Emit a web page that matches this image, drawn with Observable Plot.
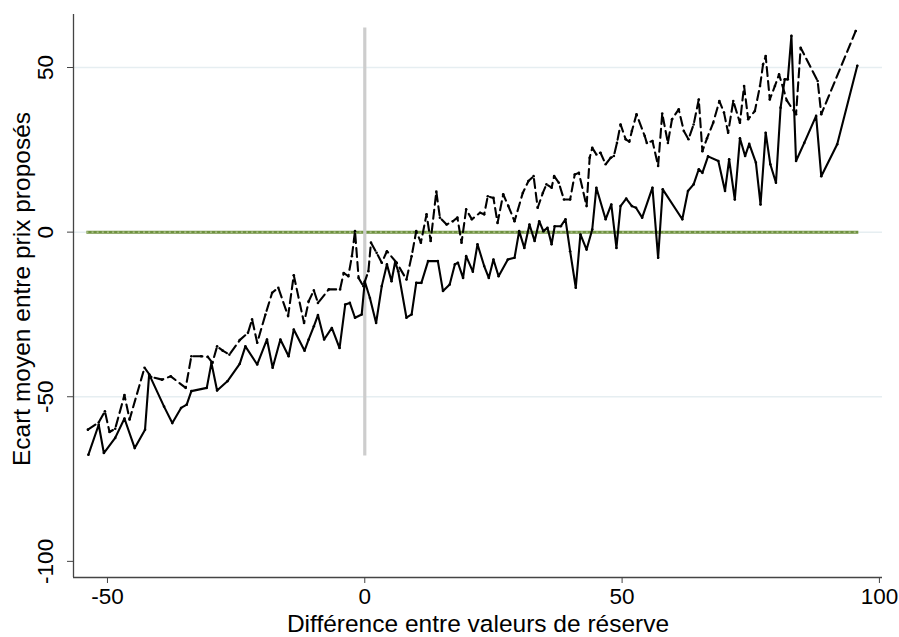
<!DOCTYPE html>
<html><head><meta charset="utf-8">
<script src="https://cdn.jsdelivr.net/npm/d3@7"></script>
<script src="https://cdn.jsdelivr.net/npm/@observablehq/plot@0.6"></script>
<style>body{margin:0;background:#fff}svg{display:block}</style>
</head><body><div id="chart"></div>
<script>
// Series 1 (solid line)
const solidX = [-53.7,-51.7,-50.7,-48.5,-46.7,-44.7,-42.7,-41.9,-39.0,-37.4,-35.7,-34.6,-33.7,-30.7,-29.8,-28.7,-26.7,-24.3,-23.2,-20.9,-19.0,-17.9,-16.4,-14.8,-13.8,-11.7,-10.9,-9.9,-9.1,-7.9,-6.4,-4.9,-3.8,-2.9,-1.9,-0.6,0,1.0,2.2,3.3,4.3,5.2,5.9,6.5,8.1,9.1,10.0,11.0,12.3,14.2,15.2,16.5,17.5,18.1,19.1,19.7,21.0,21.9,23.2,24.1,25.0,26.0,27.8,29.1,30.0,31.0,32.0,33.0,33.9,34.7,35.5,36.3,36.9,38.1,39.0,39.9,41.0,41.9,43.1,44.2,45.0,46.8,47.9,48.9,49.7,50.8,51.9,52.7,53.9,55.9,57.0,57.9,61.7,62.8,63.9,64.9,65.6,66.7,68.7,70.0,70.8,71.9,72.9,73.9,74.7,76.0,76.9,77.9,78.8,79.9,80.8,81.6,82.2,82.9,83.8,85.4,87.7,88.7,91.8,95.7];
const solidY = [-67.6,-58.5,-67.1,-62.5,-56.6,-65.6,-60,-43.2,-53,-58,-53.4,-52.4,-48.3,-47.3,-39.7,-48.1,-45.3,-40,-34.7,-40.2,-32.6,-41.2,-32.6,-37.7,-29.6,-36,-32.6,-28.6,-25.2,-32.6,-29.1,-35.2,-22,-21.5,-26,-25,-15,-20,-27.6,-16.4,-9.8,-14.9,-9,-11.9,-26,-25,-15.4,-15.4,-8.8,-8.8,-17.9,-15.9,-9.8,-9.3,-13.9,-7.3,-12,-3.7,-10.3,-13.9,-8.3,-13.4,-8.3,-7.8,0.3,-4.8,2.3,-2.7,3.3,0.3,1.3,-3.7,1.8,1.8,3.9,-5.8,-16.9,-0.7,-5.3,0.8,13.5,3.9,8.4,-4.8,7.9,10.2,7.9,7.4,4.4,13.5,-7.8,13,3.9,12.5,14.5,19.1,18,23,21.6,12.5,22.1,9.9,28.5,23.1,26.8,21.1,8.4,30.2,20.6,15,37.8,46.4,46.4,59.6,21.6,27.1,35.3,17,26.7,50.5];
// Series 2 (dashed line)
const dashX = [-53.8,-51.7,-50.5,-49.6,-48.5,-46.7,-45.7,-42.8,-41.5,-39.4,-37.7,-34.8,-33.7,-31.8,-30.5,-29.6,-28.7,-27.6,-26.3,-24.3,-22.7,-21.9,-20.9,-19.3,-18.0,-16.8,-14.9,-13.8,-11.8,-10.9,-9.9,-9.1,-7.0,-4.8,-4.1,-3.2,-2.5,-1.9,-1.2,-0.3,0.7,1.2,2.3,3.3,4.3,6.2,8.1,9.1,10.0,10.9,12.0,12.8,13.9,14.6,15.9,17.1,18.0,18.8,19.7,20.8,22.4,23.2,23.9,25.0,25.8,26.9,27.9,29.1,30.7,31.8,32.8,33.6,34.6,35.3,36.3,36.8,37.7,38.7,39.9,40.8,41.6,43.1,43.7,44.2,45.0,45.8,46.8,47.8,48.4,49.0,49.7,50.7,51.4,51.9,52.8,54.4,54.8,55.9,57.0,57.8,58.9,59.7,61.0,62.0,62.9,63.9,64.9,65.6,66.5,67.7,68.9,69.8,70.6,71.6,72.9,73.7,74.5,75.8,76.8,77.4,77.9,78.7,79.7,80.5,82.0,83.8,84.7,88.0,88.7,95.4];
const dashY = [-60,-57.8,-54.4,-60.7,-59.7,-49.5,-56.9,-41.2,-44,-44.8,-43.8,-47.3,-37.7,-37.7,-37.9,-39.7,-34.7,-36,-37.2,-32.8,-30.6,-26.5,-33.6,-25,-18.4,-16.9,-25.5,-13.1,-27.6,-21,-17.7,-21.5,-17.4,-17.4,-12.4,-13.4,-7.3,0.3,-13.9,-16.4,-11.9,-3.2,-6.3,-9.3,-5.8,-9.3,-14.4,-7.3,0.3,-3.2,5.4,-2.7,12.3,4.4,2.3,3.3,4.4,-3.2,6.9,3.9,5.9,5.4,10.9,10.4,2.8,11.5,7.9,3.3,11.9,15.5,17,7.4,11.9,14.5,13.5,17,15,9.9,9.9,17.5,18,7.9,22.6,25.6,23.6,24.1,20.6,22.6,23.1,27.1,32.7,28.2,27.5,30.7,35.8,29.2,27.1,27.7,20.1,36,27.1,34.3,37.3,30.7,28.2,32.7,40.3,24.6,28.5,33.2,39.8,36.3,30.2,39.8,33.2,44.4,34.3,36.8,44.4,51,53.5,40.3,44.4,47.9,40,35.8,56,45.9,35.8,61.1];

const xTicks = [-50, 0, 50, 100];
const yTicks = [-100, -50, 0, 50];
const gridY = [-50, 0, 50];
const xTitle = "Différence entre valeurs de réserve";
const yTitle = "Ecart moyen entre prix proposés";
const zeroLineSpan = [-54, 96];   // green reference line extent
const vLineSpan = [-68, 62];      // grey vertical line extent

const solid = solidX.map((x, i) => ({x, y: solidY[i]}));
const dashed = dashX.map((x, i) => ({x, y: dashY[i]}));

const font = "'Liberation Sans', Arial, Helvetica, sans-serif";
const chart = Plot.plot({
  width: 899, height: 637,
  marginLeft: 73, marginRight: 17, marginTop: 14, marginBottom: 60,
  style: {fontFamily: font, color: "#000", background: "#fff"},
  x: {domain: [-56.6, 100.6]},
  y: {domain: [-104.9, 66.1]},
  marks: [
    Plot.ruleY(gridY, {stroke: "#e6eef1", strokeWidth: 1.5}),
    Plot.ruleY([0], {x1: zeroLineSpan[0], x2: zeroLineSpan[1], stroke: "#6f9140", strokeWidth: 3}),
    Plot.ruleY([0], {x1: zeroLineSpan[0], x2: zeroLineSpan[1], stroke: "#b9cc98", strokeWidth: 1.1, strokeDasharray: "2,3.15"}),
    Plot.ruleX([0], {y1: vLineSpan[0], y2: vLineSpan[1], stroke: "#cdcdcd", strokeWidth: 3.2}),
    Plot.line(solid, {x: "x", y: "y", stroke: "#000", strokeWidth: 2.1}),
    Plot.dot(solid, {x: "x", y: "y", r: 1.3, fill: "#000"}),
    Plot.line(dashed, {x: "x", y: "y", stroke: "#000", strokeWidth: 2.1, strokeDasharray: "9,5"}),
    Plot.dot(dashed, {x: "x", y: "y", r: 1.3, fill: "#000"}),
    Plot.ruleX([-56.6], {stroke: "#444", strokeWidth: 1.3}),
    Plot.ruleY([-104.9], {stroke: "#444", strokeWidth: 1.3}),
    Plot.axisX({ticks: xTicks, tickSize: 6, tickPadding: 5, fontSize: 22.5, tickFormat: d => String(d), label: null, stroke: "#444", fill: "#000"}),
    Plot.axisY({ticks: yTicks, tickSize: 6, tickFormat: () => "", label: null, stroke: "#444"}),
    Plot.text(yTicks, {y: d => d, text: d => String(d), frameAnchor: "left", dx: -28, rotate: -90, fontSize: 22.5, textAnchor: "middle", lineAnchor: "middle", fill: "#000"}),
    Plot.text([yTitle], {frameAnchor: "left", dx: -51, dy: -7, rotate: -90, fontSize: 24.5, textAnchor: "middle", lineAnchor: "middle", fill: "#000"}),
    Plot.text([xTitle], {frameAnchor: "bottom", dy: 47, fontSize: 24.5, textAnchor: "middle", lineAnchor: "middle", fill: "#000"})
  ]
});
document.getElementById("chart").appendChild(chart);
</script>
</body></html>
